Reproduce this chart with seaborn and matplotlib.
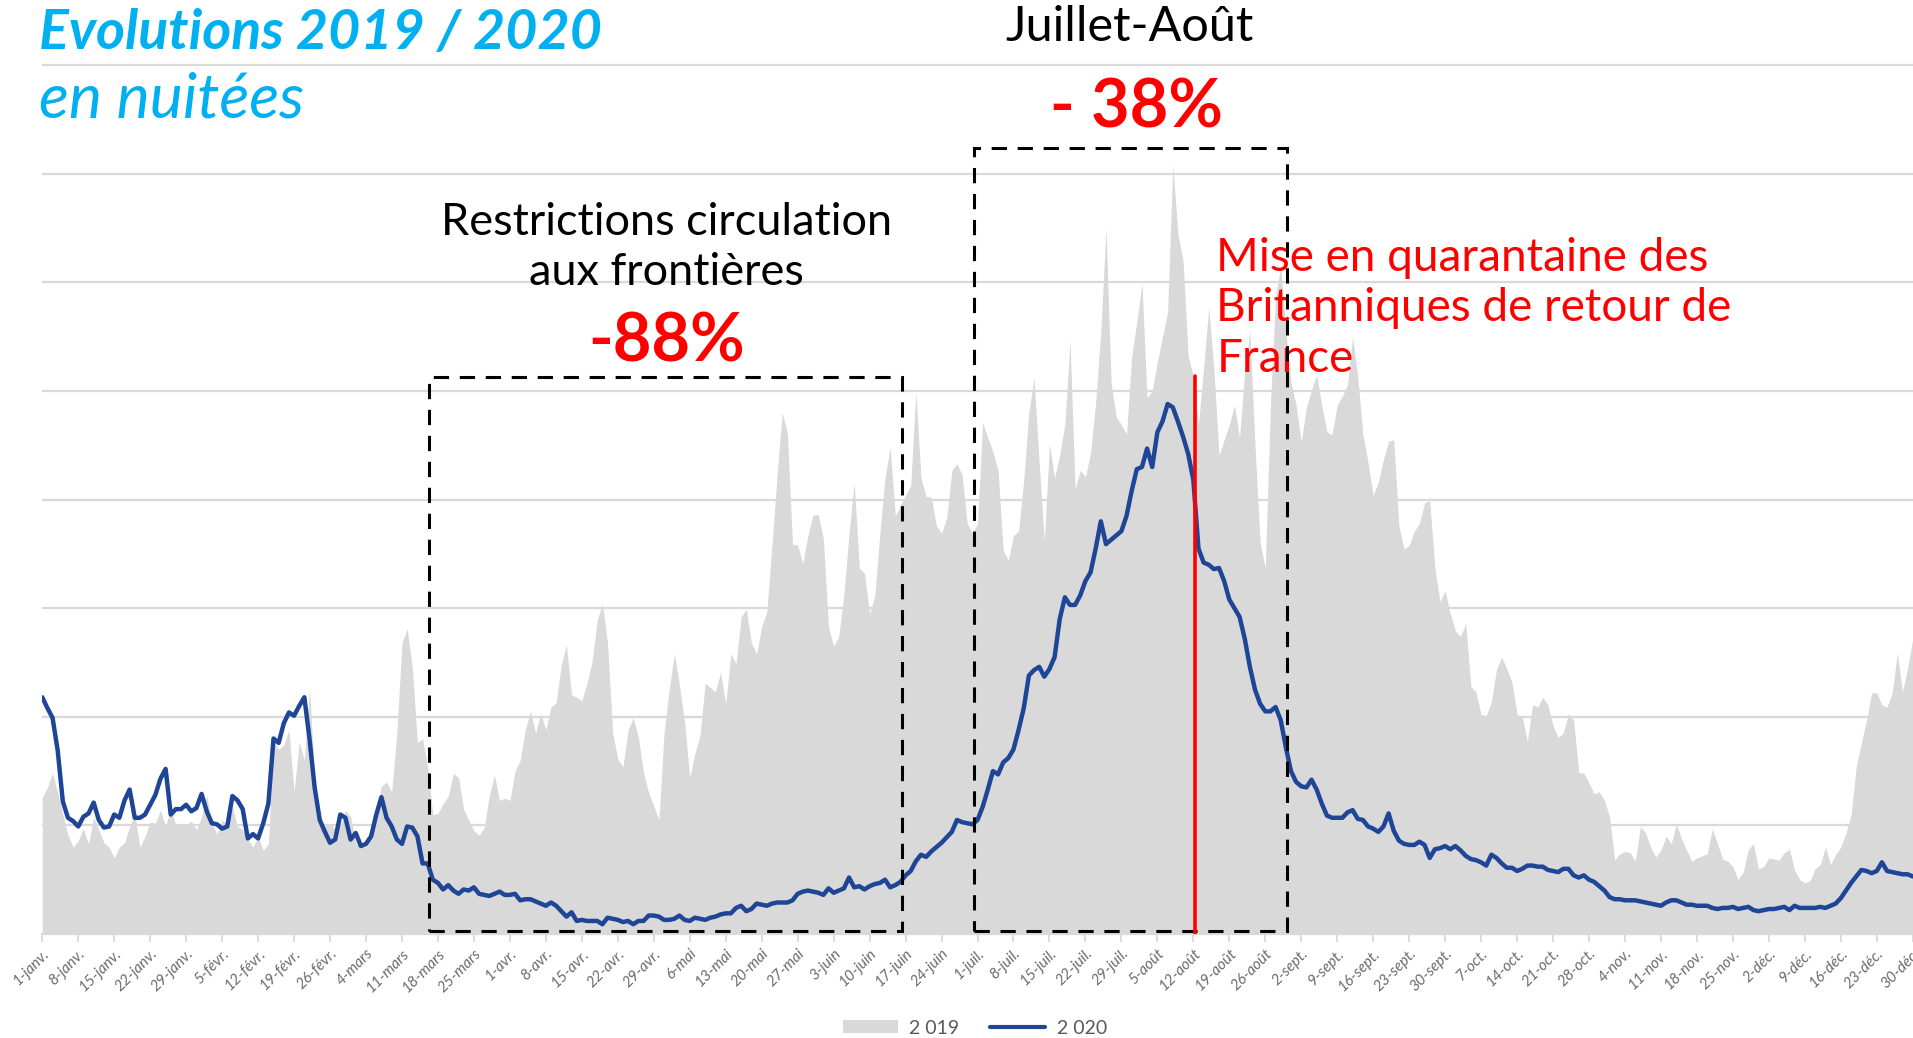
import numpy as np
import pandas as pd
import matplotlib
matplotlib.use('Agg')
import matplotlib.pyplot as plt
import seaborn as sns
from matplotlib.patches import Patch, Rectangle
from matplotlib.lines import Line2D

# nuitées, en unités de quadrillage, 1 valeur / jour
nuitees_2019 = [
    1.26, 1.35, 1.48, 1.30, 1.10, 0.91, 0.80, 0.86, 0.97, 0.83, 1.08, 0.96, 0.84, 0.80,
    0.70, 0.80, 0.84, 0.99, 1.11, 0.80, 0.90, 1.03, 1.02, 1.14, 0.99, 1.16, 1.00, 1.01,
    1.00, 1.04, 0.96, 1.08, 1.28, 1.02, 0.92, 1.05, 1.00, 1.17, 0.99, 0.96, 0.87, 0.80,
    0.90, 0.77, 0.83, 1.77, 1.70, 1.74, 1.88, 1.31, 1.77, 1.60, 2.26, 1.45, 1.05, 0.99,
    1.02, 0.96, 1.00, 1.14, 1.08, 0.84, 0.80, 0.88, 0.93, 1.15, 1.36, 1.40, 1.31, 1.85,
    2.68, 2.81, 2.46, 1.76, 1.80, 1.54, 1.10, 1.11, 1.20, 1.27, 1.48, 1.44, 1.15, 1.05,
    0.95, 0.91, 0.98, 1.28, 1.46, 1.23, 1.25, 1.23, 1.50, 1.60, 1.88, 2.05, 1.85, 2.03,
    1.88, 2.09, 2.13, 2.48, 2.66, 2.20, 2.18, 2.15, 2.31, 2.51, 2.89, 3.04, 2.68, 1.85,
    1.61, 1.54, 1.88, 1.99, 1.81, 1.49, 1.30, 1.18, 1.05, 1.85, 2.25, 2.58, 2.29, 1.95,
    1.44, 1.66, 1.83, 2.31, 2.27, 2.23, 2.41, 2.12, 2.58, 2.49, 2.92, 2.99, 2.68, 2.58,
    2.83, 2.97, 3.58, 4.23, 4.80, 4.61, 3.59, 3.58, 3.41, 3.67, 3.86, 3.86, 3.64, 2.83,
    2.65, 2.74, 3.13, 3.69, 4.16, 3.37, 3.32, 2.95, 3.11, 3.69, 4.20, 4.48, 3.85, 3.95,
    4.04, 4.13, 4.99, 4.20, 4.03, 4.02, 3.76, 3.69, 3.83, 4.27, 4.33, 4.23, 3.78, 3.69,
    3.78, 4.71, 4.57, 4.44, 4.27, 3.53, 3.44, 3.67, 3.71, 4.18, 4.81, 5.12, 4.34, 3.62,
    4.51, 4.20, 4.41, 4.69, 5.46, 4.10, 4.27, 4.21, 4.43, 4.90, 5.55, 6.50, 5.08, 4.76,
    4.69, 4.60, 5.32, 5.64, 5.99, 4.94, 5.00, 5.27, 5.50, 5.73, 7.08, 6.45, 6.20, 5.32,
    5.13, 4.69, 5.22, 5.77, 5.20, 4.41, 4.55, 4.69, 4.87, 4.57, 5.18, 5.55, 4.50, 3.60,
    3.37, 4.87, 5.87, 6.15, 5.55, 5.08, 4.87, 4.53, 4.85, 5.01, 5.15, 4.87, 4.62, 4.60,
    4.87, 4.95, 5.06, 5.50, 5.13, 4.60, 4.34, 4.04, 4.16, 4.37, 4.54, 4.55, 3.76, 3.54,
    3.58, 3.71, 3.78, 3.97, 3.99, 3.37, 3.06, 3.16, 2.95, 2.79, 2.74, 2.86, 2.28, 2.23,
    2.02, 2.01, 2.14, 2.44, 2.55, 2.44, 2.32, 2.02, 2.01, 1.77, 2.11, 2.09, 2.18, 2.11,
    1.92, 1.81, 1.85, 2.03, 1.97, 1.49, 1.48, 1.39, 1.29, 1.31, 1.23, 1.08, 0.68, 0.74,
    0.76, 0.75, 0.67, 0.99, 0.93, 0.80, 0.71, 0.77, 0.90, 0.83, 1.01, 0.88, 0.77, 0.67,
    0.70, 0.72, 0.74, 0.97, 0.83, 0.69, 0.67, 0.62, 0.50, 0.57, 0.78, 0.83, 0.60, 0.62,
    0.70, 0.69, 0.68, 0.75, 0.78, 0.59, 0.50, 0.47, 0.49, 0.60, 0.64, 0.80, 0.64, 0.73,
    0.80, 0.93, 1.10, 1.54, 1.76, 1.97, 2.22, 2.22, 2.11, 2.09, 2.22, 2.59, 2.23, 2.45,
    2.72, 2.44,
]
nuitees_2020 = [
    2.18, 2.08, 1.99, 1.69, 1.22, 1.07, 1.04, 0.99, 1.08, 1.11, 1.21, 1.05, 0.98, 0.99,
    1.10, 1.07, 1.23, 1.33, 1.07, 1.07, 1.10, 1.19, 1.28, 1.43, 1.52, 1.10, 1.15, 1.15,
    1.19, 1.13, 1.16, 1.29, 1.13, 1.02, 1.01, 0.97, 0.99, 1.27, 1.23, 1.15, 0.88, 0.92,
    0.88, 1.02, 1.20, 1.80, 1.76, 1.94, 2.04, 2.01, 2.10, 2.18, 1.80, 1.35, 1.05, 0.94,
    0.84, 0.87, 1.10, 1.07, 0.87, 0.93, 0.81, 0.83, 0.90, 1.10, 1.26, 1.07, 0.99, 0.87,
    0.83, 0.99, 0.98, 0.90, 0.65, 0.65, 0.50, 0.47, 0.41, 0.45, 0.40, 0.37, 0.41, 0.40,
    0.43, 0.37, 0.36, 0.35, 0.37, 0.39, 0.36, 0.36, 0.37, 0.31, 0.32, 0.32, 0.30, 0.28,
    0.26, 0.29, 0.26, 0.21, 0.16, 0.20, 0.12, 0.13, 0.12, 0.12, 0.12, 0.09, 0.15, 0.14,
    0.13, 0.11, 0.12, 0.09, 0.12, 0.12, 0.17, 0.17, 0.16, 0.13, 0.13, 0.14, 0.17, 0.13,
    0.12, 0.15, 0.14, 0.13, 0.15, 0.16, 0.18, 0.19, 0.19, 0.24, 0.26, 0.21, 0.23, 0.28,
    0.27, 0.26, 0.28, 0.29, 0.29, 0.29, 0.31, 0.37, 0.39, 0.40, 0.39, 0.38, 0.36, 0.42,
    0.38, 0.40, 0.42, 0.52, 0.43, 0.44, 0.41, 0.44, 0.46, 0.47, 0.50, 0.43, 0.45, 0.48,
    0.54, 0.58, 0.67, 0.73, 0.71, 0.76, 0.80, 0.84, 0.89, 0.94, 1.05, 1.03, 1.02, 1.01,
    1.05, 1.17, 1.33, 1.50, 1.47, 1.58, 1.62, 1.70, 1.88, 2.08, 2.38, 2.43, 2.46, 2.37,
    2.44, 2.55, 2.90, 3.10, 3.03, 3.03, 3.12, 3.25, 3.33, 3.55, 3.80, 3.59, 3.63, 3.67,
    3.71, 3.85, 4.08, 4.28, 4.30, 4.47, 4.30, 4.62, 4.72, 4.88, 4.85, 4.72, 4.58, 4.42,
    4.18, 3.55, 3.42, 3.40, 3.36, 3.37, 3.25, 3.08, 3.00, 2.92, 2.72, 2.46, 2.25, 2.12,
    2.05, 2.05, 2.09, 1.97, 1.72, 1.50, 1.40, 1.36, 1.35, 1.42, 1.33, 1.20, 1.09, 1.07,
    1.07, 1.07, 1.12, 1.14, 1.06, 1.05, 0.99, 0.97, 0.94, 0.99, 1.11, 0.95, 0.86, 0.83,
    0.82, 0.82, 0.85, 0.82, 0.70, 0.78, 0.79, 0.81, 0.78, 0.81, 0.77, 0.72, 0.69, 0.68,
    0.66, 0.63, 0.73, 0.70, 0.65, 0.61, 0.61, 0.58, 0.60, 0.63, 0.63, 0.62, 0.62, 0.59,
    0.58, 0.57, 0.60, 0.60, 0.54, 0.52, 0.54, 0.50, 0.48, 0.44, 0.40, 0.34, 0.32, 0.32,
    0.31, 0.31, 0.31, 0.30, 0.29, 0.28, 0.27, 0.26, 0.29, 0.31, 0.31, 0.29, 0.27, 0.27,
    0.26, 0.26, 0.26, 0.24, 0.23, 0.24, 0.24, 0.25, 0.23, 0.24, 0.25, 0.22, 0.21, 0.22,
    0.23, 0.23, 0.24, 0.25, 0.22, 0.26, 0.24, 0.24, 0.24, 0.24, 0.25, 0.24, 0.26, 0.28,
    0.33, 0.40, 0.47, 0.53, 0.59, 0.58, 0.56, 0.58, 0.66, 0.58, 0.57, 0.56, 0.55, 0.55,
    0.53, 0.54,
]
mois = ['janv.', 'févr.', 'mars', 'avr.', 'mai', 'juin',
        'juil.', 'août', 'sept.', 'oct.', 'nov.', 'déc.']

dates = pd.date_range('2020-01-01', '2020-12-31', freq='D')
df = pd.DataFrame({'jour': (dates - dates[0]).days,
                   'n2019': nuitees_2019, 'n2020': nuitees_2020})

ticks = pd.date_range('2020-01-01', '2020-12-30', freq='7D')
tick_pos = (ticks - dates[0]).days
tick_lab = [f'{d.day}-{mois[d.month - 1]}' for d in ticks]

# périodes annotées
restr_debut, restr_fin, restr_haut = pd.Timestamp('2020-03-16'), pd.Timestamp('2020-06-16'), 5.13
ete_debut, ete_fin, ete_haut = pd.Timestamp('2020-06-30'), pd.Timestamp('2020-08-30'), 7.24
quarantaine = pd.Timestamp('2020-08-12')

sns.set_theme(style='white')
plt.rcParams['font.family'] = ['Lato', 'DejaVu Sans']

GRIS = '#D9D9D9'
BLEU = '#1E4596'
CIEL = '#00B0F0'
ROUGE = '#FF0000'

fig = plt.figure(figsize=(19.13, 10.38), dpi=100)
ax = fig.add_axes([0.0221, 0.1002, 1 - 0.0221, 0.8391])

for y in range(1, 9):
    ax.axhline(y, color=GRIS, lw=1.6, zorder=0)

ax.fill_between(df.jour, 0, df.n2019, color=GRIS, lw=0, zorder=1)
sns.lineplot(data=df, x='jour', y='n2020', color=BLEU, lw=3.2, ax=ax, zorder=3)

ax.set_xlim(0, 364.05)
ax.set_ylim(0, 8.02)
ax.set_xlabel('')
ax.set_ylabel('')
ax.set_yticks([])
ax.set_xticks(tick_pos)
ax.set_xticklabels(tick_lab, rotation=45, ha='right', rotation_mode='anchor',
                   fontsize=11, color='#6B6B6B', style='italic')
ax.tick_params(axis='x', length=6, width=1.3, color=GRIS, pad=3, bottom=True)
for s in ['top', 'right', 'left']:
    ax.spines[s].set_visible(False)
ax.spines['bottom'].set_color(GRIS)
ax.spines['bottom'].set_linewidth(1.6)


def jour(d):
    return (d - dates[0]).days


def cadre(d0, d1, haut):
    ax.add_patch(Rectangle((jour(d0) + 0.3, 0.03), jour(d1) - jour(d0), haut - 0.03,
                           fill=False, ec='black', lw=2.2, ls=(0, (5, 3.5)),
                           zorder=4, clip_on=False))


cadre(restr_debut, restr_fin, restr_haut)
cadre(ete_debut, ete_fin, ete_haut)
ax.plot([jour(quarantaine) + 0.4] * 2, [0, 5.14], color=ROUGE, lw=2.6, zorder=5)

# textes
ax.text(121.5, 6.55, 'Restrictions circulation', ha='center', va='center',
        fontsize=32.5, color='black')
ax.text(121.5, 6.09, 'aux frontières', ha='center', va='center',
        fontsize=32.5, color='black')
ax.text(121.5, 5.45, '-88%', ha='center', va='center', fontsize=48,
        fontweight='bold', color=ROUGE)

ax.text(211.5, 8.35, 'Juillet-Août', ha='center', va='center',
        fontsize=35, color='black')
ax.text(213, 7.60, '- 38%', ha='center', va='center', fontsize=48,
        fontweight='bold', color=ROUGE)

ax.text(228.5, 5.76, 'Mise en quarantaine des\nBritanniques de retour de\nFrance',
        ha='left', va='center', fontsize=33, color=ROUGE, linespacing=1.26)

fig.text(39 / 1913, 1 - 33 / 1038, 'Evolutions 2019 / 2020', ha='left', va='center',
         fontsize=40, fontweight='bold', style='italic', color=CIEL)
fig.text(39 / 1913, 1 - 100 / 1038, 'en nuitées', ha='left', va='center',
         fontsize=45, fontweight='normal', style='italic', color=CIEL)

handles = [Patch(facecolor=GRIS, edgecolor='none'),
           Line2D([0], [0], color=BLEU, lw=3)]
fig.legend(handles, ['2 019', '2 020'], loc='center', ncol=2, frameon=False,
           bbox_to_anchor=(975 / 1913, 1 - 1028 / 1038), fontsize=14,
           labelcolor='#595959', handlelength=2.8, handleheight=0.6,
           handletextpad=0.6, columnspacing=1.6)

fig.savefig('out.png', dpi=100)
